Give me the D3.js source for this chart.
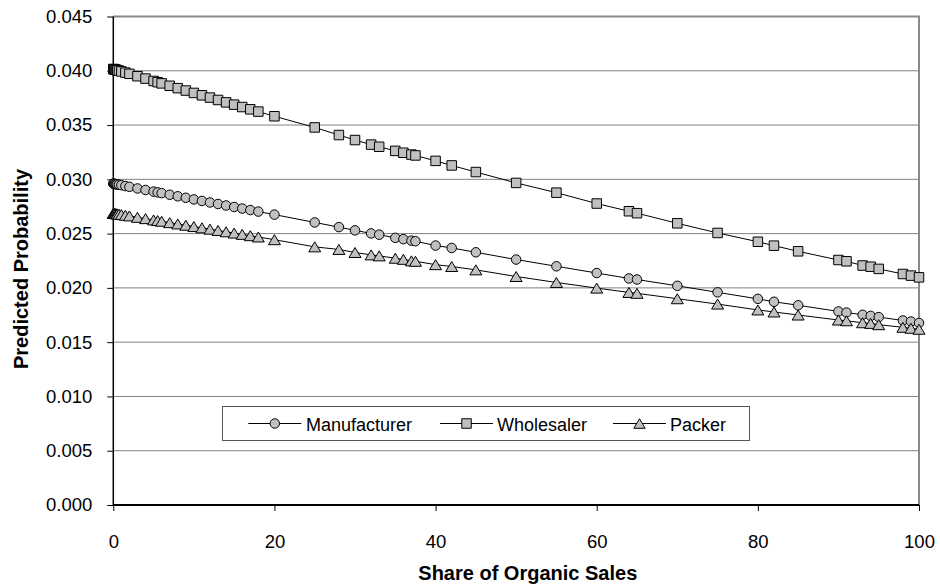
<!DOCTYPE html>
<html>
<head>
<meta charset="utf-8">
<script src="https://cdn.jsdelivr.net/npm/d3@7"></script>
<style>
  html, body { margin: 0; padding: 0; background: #ffffff; }
  svg { display: block; font-family: "Liberation Sans", Arial, sans-serif; }
</style>
</head>
<body>
<svg id="chart" width="940" height="588"></svg>
<script>
// Share of organic sales (%) at which each predicted probability was evaluated
const shares = [0, 0.05, 0.1, 0.2, 0.3, 0.4, 0.5, 0.7, 1, 1.5, 2, 3, 4, 5, 5.5, 6, 7, 8, 9, 10,
  11, 12, 13, 14, 15, 16, 17, 18, 20, 25, 28, 30, 32, 33, 35, 36, 37, 37.5, 40, 42,
  45, 50, 55, 60, 64, 65, 70, 75, 80, 82, 85, 90, 91, 93, 94, 95, 98, 99, 100];

const manufacturer = [0.02960, 0.02959, 0.02958, 0.02957, 0.02955, 0.02954, 0.02953, 0.02950, 0.02946, 0.02938,
  0.02931, 0.02916, 0.02902, 0.02887, 0.02880, 0.02873, 0.02858, 0.02844, 0.02830, 0.02815,
  0.02801, 0.02787, 0.02773, 0.02759, 0.02745, 0.02731, 0.02717, 0.02703, 0.02675, 0.02603,
  0.02560, 0.02530, 0.02502, 0.02490, 0.02461, 0.02449, 0.02435, 0.02430, 0.02390, 0.02368,
  0.02328, 0.02261, 0.02199, 0.02137, 0.02087, 0.02077, 0.02019, 0.01959, 0.01899, 0.01872,
  0.01840, 0.01783, 0.01773, 0.01752, 0.01742, 0.01731, 0.01700, 0.01690, 0.01677];

const wholesaler = [0.04016, 0.04015, 0.04014, 0.04012, 0.04009, 0.04007, 0.04005, 0.04001, 0.03994, 0.03983,
  0.03972, 0.03950, 0.03928, 0.03906, 0.03895, 0.03884, 0.03862, 0.03840, 0.03818, 0.03796,
  0.03774, 0.03753, 0.03731, 0.03709, 0.03688, 0.03666, 0.03645, 0.03624, 0.03581, 0.03478,
  0.03408, 0.03362, 0.03320, 0.03300, 0.03262, 0.03245, 0.03228, 0.03220, 0.03170, 0.03128,
  0.03067, 0.02967, 0.02877, 0.02777, 0.02706, 0.02688, 0.02595, 0.02506, 0.02425, 0.02389,
  0.02337, 0.02257, 0.02245, 0.02206, 0.02195, 0.02175, 0.02128, 0.02113, 0.02097];

const packer = [0.02687, 0.02686, 0.02686, 0.02685, 0.02684, 0.02682, 0.02681, 0.02679, 0.02675, 0.02669,
  0.02663, 0.02650, 0.02638, 0.02626, 0.02620, 0.02614, 0.02601, 0.02589, 0.02577, 0.02565,
  0.02553, 0.02541, 0.02529, 0.02517, 0.02505, 0.02493, 0.02481, 0.02469, 0.02444, 0.02378,
  0.02354, 0.02326, 0.02304, 0.02295, 0.02273, 0.02263, 0.02249, 0.02245, 0.02214, 0.02197,
  0.02166, 0.02105, 0.02050, 0.01998, 0.01958, 0.01950, 0.01900, 0.01851, 0.01797, 0.01778,
  0.01750, 0.01704, 0.01697, 0.01679, 0.01673, 0.01661, 0.01637, 0.01628, 0.01619];

const seriesNames = ["Manufacturer", "Wholesaler", "Packer"];
const seriesShapes = ["circle", "square", "triangle"];
const xTicks = [0, 20, 40, 60, 80, 100];
const yTicks = [0, 0.005, 0.010, 0.015, 0.020, 0.025, 0.030, 0.035, 0.040, 0.045];

const svg = d3.select("#chart");
const plot = { left: 113.3, right: 919, top: 16.5, bottom: 505 };

const x = d3.scaleLinear().domain([0, 100]).range([plot.left, plot.right]);
const y = d3.scaleLinear().domain([0, 0.045]).range([plot.bottom, plot.top]);

const markerFill = "#c0c0c0";

// Horizontal gridlines
svg.append("g")
  .selectAll("line")
  .data(yTicks.filter(v => v > 0 && v < 0.045))
  .join("line")
  .attr("x1", plot.left).attr("x2", plot.right)
  .attr("y1", d => y(d)).attr("y2", d => y(d))
  .attr("stroke", "#808080").attr("stroke-width", 1);

// Plot area frame (top and right edges)
svg.append("path")
  .attr("d", `M${plot.left},${plot.top}H${plot.right}V${plot.bottom}`)
  .attr("fill", "none").attr("stroke", "#8a8a8a").attr("stroke-width", 2);

// Axes
const xAxis = svg.append("g")
  .attr("transform", `translate(0,${plot.bottom})`)
  .call(d3.axisBottom(x).tickValues(xTicks).tickSize(6).tickPadding(23.5).tickFormat(d3.format("d")));
xAxis.select(".domain").attr("stroke", "#000").attr("stroke-width", 2)
  .attr("d", `M${plot.left},0H${plot.right}`);
xAxis.selectAll(".tick line").attr("stroke", "#000").attr("stroke-width", 1);
xAxis.selectAll(".tick text").attr("font-size", 18.5).attr("fill", "#000")
  .attr("font-family", "Liberation Sans, Arial, sans-serif");

const yAxis = svg.append("g")
  .attr("transform", `translate(${plot.left},0)`)
  .call(d3.axisLeft(y).tickValues(yTicks).tickSize(6).tickPadding(15).tickFormat(d3.format(".3f")));
yAxis.select(".domain").attr("stroke", "#000").attr("stroke-width", 1.5)
  .attr("d", `M0,${plot.top}V${plot.bottom}`);
yAxis.selectAll(".tick line").attr("stroke", "#000").attr("stroke-width", 1);
yAxis.selectAll(".tick text").attr("font-size", 18.5).attr("fill", "#000")
  .attr("font-family", "Liberation Sans, Arial, sans-serif");

// Axis titles
svg.append("text")
  .attr("x", 418.3).attr("y", 580)
  .attr("text-anchor", "start").attr("font-size", 20).attr("font-weight", "bold")
  .text("Share of Organic Sales");

svg.append("text")
  .attr("transform", "translate(28,269) rotate(-90)")
  .attr("text-anchor", "middle").attr("font-size", 20).attr("font-weight", "bold")
  .text("Predicted Probability");

// Marker shapes, centred on their bounding box
function markerPath(shape, s) {
  const h = s / 2;
  if (shape === "square") return `M${-h},${-h}H${h}V${h}H${-h}Z`;
  if (shape === "triangle") {
    const w = s * 0.6;
    return `M0,${-h}L${w},${h}L${-w},${h}Z`;
  }
  return d3.arc()({ innerRadius: 0, outerRadius: h, startAngle: 0, endAngle: 2 * Math.PI });
}

const seriesValues = [manufacturer, wholesaler, packer];
const line = d3.line().x(d => x(d[0])).y(d => y(d[1]));

seriesValues.forEach((vals, i) => {
  const pts = shares.map((s, j) => [s, vals[j]]);
  const g = svg.append("g");
  g.append("path").datum(pts)
    .attr("d", line).attr("fill", "none").attr("stroke", "#000").attr("stroke-width", 1);
  g.selectAll("path.mk").data(pts).join("path")
    .attr("class", "mk")
    .attr("transform", d => `translate(${x(d[0])},${y(d[1])})`)
    .attr("d", markerPath(seriesShapes[i], i === 2 ? 10 : 9.5))
    .attr("fill", markerFill).attr("stroke", "#000").attr("stroke-width", 1);
});

// Legend
const legend = svg.append("g");
legend.append("rect")
  .attr("x", 222.5).attr("y", 406.5).attr("width", 527).attr("height", 34)
  .attr("fill", "#fff").attr("stroke", "#555").attr("stroke-width", 1);

const legendItems = [
  { lineStart: 248.3, textX: 306 },
  { lineStart: 440, textX: 497 },
  { lineStart: 613, textX: 670 }
];
legendItems.forEach((it, i) => {
  const cy = 423.5;
  legend.append("line")
    .attr("x1", it.lineStart).attr("x2", it.lineStart + 53)
    .attr("y1", cy).attr("y2", cy)
    .attr("stroke", "#000").attr("stroke-width", 1);
  legend.append("path")
    .attr("transform", `translate(${it.lineStart + 26.5},${cy})`)
    .attr("d", markerPath(seriesShapes[i], 9.5))
    .attr("fill", markerFill).attr("stroke", "#000").attr("stroke-width", 1);
  legend.append("text")
    .attr("x", it.textX).attr("y", cy).attr("dy", "0.4em")
    .attr("font-size", 18).attr("fill", "#000")
    .text(seriesNames[i]);
});
</script>
</body>
</html>
